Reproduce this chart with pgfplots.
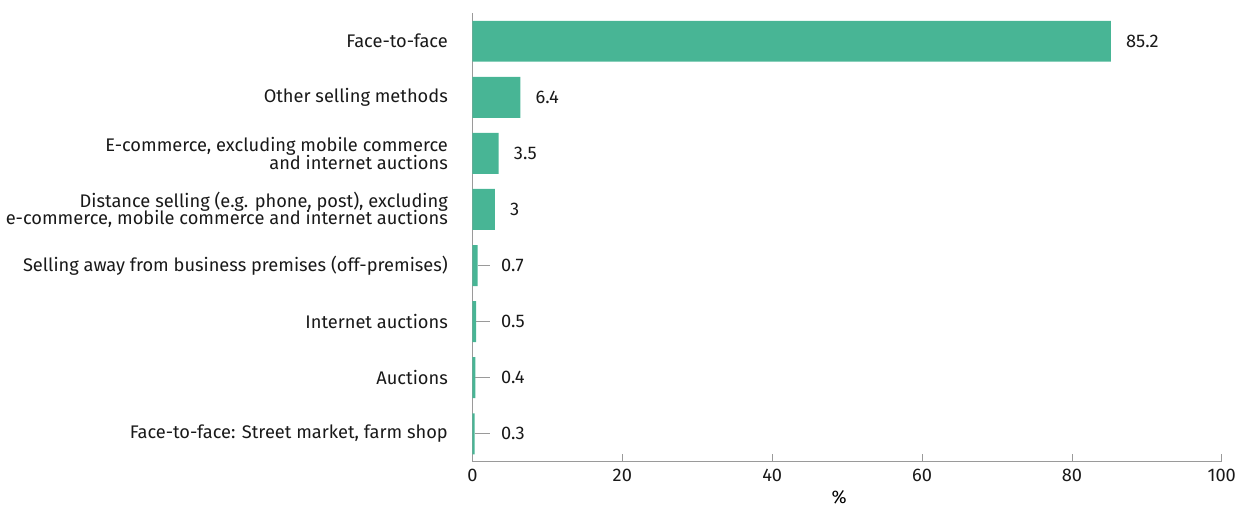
\documentclass[border={1pt 1.5pt 5pt 9.5pt}]{standalone}
\usepackage{pgfplots}
\pgfplotsset{compat=1.18}
\usepackage{fontspec}
\setmainfont{Fira Sans}
\definecolor{barteal}{HTML}{48B595}
\definecolor{axisgrey}{HTML}{9A9A9A}
\newcommand{\chartfont}{\fontsize{13.7pt}{15.5pt}\selectfont}
\begin{document}
\begin{tikzpicture}
\begin{axis}[
    x=5.625pt, y=42.1pt,
    y dir=reverse,
    xmin=0, xmax=100,
    ymin=-0.5, ymax=7.5,
    axis x line*=bottom,
    axis y line*=left,
    axis line style={axisgrey, line width=0.8pt},
    xtick={0,20,40,60,80,100},
    tick align=inside,
    major tick length=6pt,
    xtick style={axisgrey, line width=0.6pt},
    ytick={0,...,7},
    ytick style={draw=none},
    yticklabels={
        {Face-to-face},
        {Other selling methods},
        {E-commerce, excluding mobile commerce\\[-2.5pt]and internet auctions},
        {Distance selling (e.g. phone, post), excluding\\[-2.5pt]e-commerce, mobile commerce and internet auctions},
        {Selling away from business premises (off-premises)},
        {Internet auctions},
        {Auctions},
        {Face-to-face: Street market, farm shop}
    },
    yticklabel style={align=right, font=\chartfont, text=black!90, xshift=-15pt},
    xticklabel style={font=\chartfont, text=black!90, yshift=-2pt},
    /pgf/number format/assume math mode=true,
    xlabel={\%},
    xlabel style={font=\chartfont, yshift=0pt, xshift=-6pt},
    clip=false,
]
% bars
\addplot[xbar, bar width=30.75pt, fill=barteal, draw=none] coordinates {
    (85.2,0) (6.4,1) (3.5,2) (3.0,3) (0.7,4) (0.5,5) (0.4,6) (0.3,7)
};
% leader lines for small bars
\addplot[draw=none, mark=none, forget plot,
    error bars/.cd, x dir=plus, x explicit,
    error bar style={axisgrey, line width=0.6pt}, error mark=none]
    coordinates {
    (0.7,4) +- (1.7,0)
    (0.5,5) +- (1.9,0)
    (0.4,6) +- (2.0,0)
    (0.3,7) +- (2.1,0)
};
% value labels
\addplot[only marks, mark size=0pt, forget plot,
    point meta=explicit symbolic,
    nodes near coords,
    every node near coord/.append style={anchor=west, font=\chartfont, text=black!90}]
    coordinates {
    (86.6,0) [85.2]
    (7.8,1) [6.4]
    (4.9,2) [3.5]
    (4.4,3) [3]
    (3.2,4) [0.7]
    (3.2,5) [0.5]
    (3.2,6) [0.4]
    (3.2,7) [0.3]
};
\end{axis}
\end{tikzpicture}
\end{document}
